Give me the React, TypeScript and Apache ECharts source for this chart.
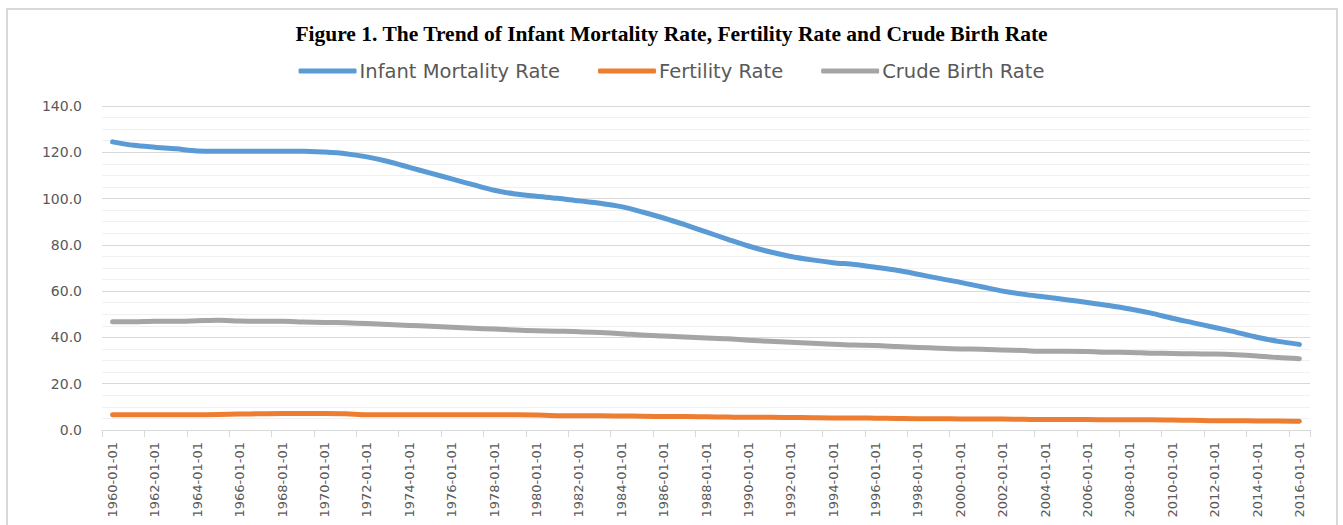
import React, { useEffect, useRef } from "react";
import * as echarts from "echarts";

const years: string[] = [];
for (let y = 1960; y <= 2016; y++) years.push(`${y}-01-01`);

const infantMortality = [
  124.5, 123, 122.2, 121.5, 120.6, 120.5, 120.5, 120.5, 120.5, 120.5,
  120.1, 119.4, 118, 116, 113.5, 111, 108.5, 106, 103.6, 102,
  101, 100.1, 99, 98, 96.5, 94.2, 91.6, 88.7, 85.6, 82.5,
  79.5, 77, 75, 73.5, 72.3, 71.5, 70.3, 69, 67.3, 65.5,
  63.8, 61.9, 60, 58.6, 57.5, 56.3, 55.1, 53.8, 52.3, 50.5,
  48.3, 46.3, 44.3, 42.3, 40.1, 38.3, 37,
];

const fertilityRate = [
  6.6, 6.6, 6.6, 6.6, 6.6, 6.7, 6.9, 7.0, 7.1, 7.1,
  7.1, 7.0, 6.6, 6.6, 6.6, 6.6, 6.6, 6.6, 6.6, 6.6,
  6.5, 6.2, 6.2, 6.2, 6.1, 5.9, 5.8, 5.8, 5.7, 5.6,
  5.5, 5.5, 5.4, 5.3, 5.2, 5.2, 5.1, 5.0, 4.9, 4.9,
  4.8, 4.8, 4.7, 4.6, 4.5, 4.5, 4.5, 4.4, 4.4, 4.4,
  4.3, 4.2, 4.0, 4.0, 3.9, 3.9, 3.8,
];

const crudeBirthRate = [
  46.8, 46.8, 47, 47, 47.2, 47.4, 47.1, 47, 47, 46.7,
  46.5, 46.3, 46, 45.6, 45.2, 44.8, 44.4, 44, 43.6, 43.2,
  42.9, 42.7, 42.5, 42.1, 41.6, 41, 40.6, 40.2, 39.8, 39.4,
  38.8, 38.3, 37.9, 37.5, 37.1, 36.7, 36.5, 36.1, 35.7, 35.3,
  35, 34.9, 34.6, 34.3, 34, 34, 33.9, 33.6, 33.5, 33.2,
  33.1, 32.9, 32.8, 32.5, 32, 31.3, 30.8,
];

const titleText =
  "Figure 1. The Trend of Infant Mortality Rate, Fertility Rate and Crude Birth Rate";

export default function App() {
  const ref = useRef<HTMLDivElement>(null);
  useEffect(() => {
    if (!ref.current) return;
    const chart = echarts.init(ref.current, undefined, { renderer: "svg" });
    const mk = (name: string, data: number[], color: string) => ({
      name,
      type: "line",
      data,
      smooth: 0.3,
      symbol: "none",
      color,
      lineStyle: { width: 5, color, cap: "round", join: "round" },
    });
    chart.setOption({
      animation: false,
      backgroundColor: "#ffffff",
      title: {
        text: titleText,
        left: "center",
        top: 18,
        textStyle: {
          fontFamily: "Liberation Serif",
          fontWeight: "bold",
          fontSize: 21.5,
          color: "#000000",
        },
      },
      legend: {
        top: 56,
        left: "center",
        icon: "roundRect",
        itemWidth: 58,
        itemHeight: 5,
        itemGap: 38,
        textStyle: { fontFamily: "DejaVu Sans", fontSize: 19.5, color: "#595959", padding: [0, 0, 0, -2] },
        data: ["Infant Mortality Rate", "Fertility Rate", "Crude Birth Rate"],
      },
      graphic: [
        {
          type: "rect",
          shape: { x: 7, y: 9, width: 1330, height: 600 },
          style: { fill: "none", stroke: "#d9d9d9", lineWidth: 2 },
          silent: true,
        },
      ],
      grid: { left: 102, right: 33, top: 106, bottom: 95, containLabel: false },
      xAxis: {
        type: "category",
        data: years,
        boundaryGap: true,
        axisLine: { lineStyle: { color: "#d9d9d9", width: 1 } },
        axisTick: { show: true, interval: 1, length: 7, lineStyle: { color: "#d9d9d9" } },
        axisLabel: {
          interval: 1,
          rotate: 90,
          margin: 12,
          fontFamily: "DejaVu Sans",
          fontSize: 13,
          color: "#595959",
        },
      },
      yAxis: {
        type: "value",
        min: 0,
        max: 140,
        interval: 20,
        axisLine: { show: false },
        axisTick: { show: false },
        axisLabel: {
          margin: 20,
          fontFamily: "DejaVu Sans",
          fontSize: 14,
          color: "#595959",
          formatter: (v: number) => v.toFixed(1),
        },
        splitLine: { lineStyle: { color: "#d9d9d9", width: 1 } },
        minorTick: { show: false, splitNumber: 4 },
        minorSplitLine: { show: true, lineStyle: { color: "#f0f0f0", width: 1 } },
      },
      series: [
        mk("Infant Mortality Rate", infantMortality, "#5b9bd5"),
        mk("Fertility Rate", fertilityRate, "#ed7d31"),
        mk("Crude Birth Rate", crudeBirthRate, "#a5a5a5"),
      ],
    });
    return () => chart.dispose();
  }, []);
  return (
    <div
      ref={ref}
      style={{ position: "fixed", left: 0, top: 0, width: 1343, height: 525 }}
    />
  );
}
